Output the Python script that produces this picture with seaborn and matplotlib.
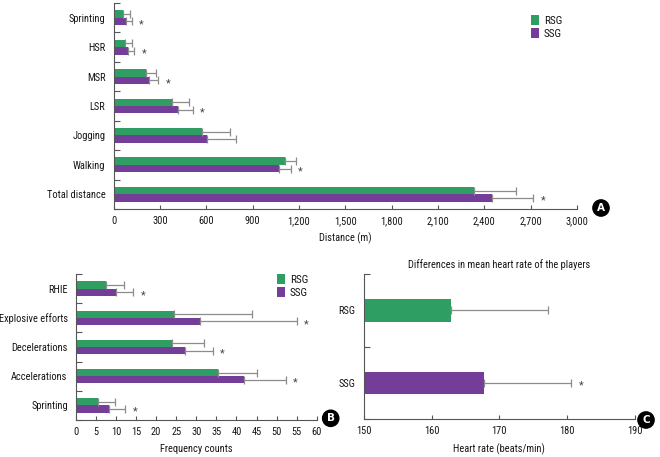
import numpy as np
import pandas as pd
import matplotlib
matplotlib.use('Agg')
import matplotlib.pyplot as plt
from matplotlib.container import BarContainer
from matplotlib.ticker import StrMethodFormatter
import seaborn as sns

# panel A: distance covered (m), mean and SD
dist_labels = ['Sprinting', 'HSR', 'MSR', 'LSR', 'Jogging', 'Walking', 'Total distance']
dist_rsg = [60, 73, 209, 380, 572, 1112, 2335]
dist_rsg_sd = [48, 43, 67, 106, 181, 71, 271]
dist_ssg = [80, 95, 231, 414, 602, 1068, 2450]
dist_ssg_sd = [36, 39, 58, 98, 190, 78, 268]
dist_sig = [True, True, True, True, False, True, True]

# panel B: frequency counts
freq_labels = ['RHIE', 'Explosive efforts', 'Decelerations', 'Accelerations', 'Sprinting']
freq_rsg = [7.5, 24.5, 24.0, 35.4, 5.4]
freq_rsg_sd = [4.5, 19.5, 7.8, 9.8, 4.3]
freq_ssg = [10.0, 30.8, 27.1, 42.0, 8.3]
freq_ssg_sd = [4.3, 24.3, 7.0, 10.3, 4.0]
freq_sig = [True, True, True, True, True]

# panel C: heart rate
hr_groups = ['RSG', 'SSG']
hr_mean = [162.8, 167.7]
hr_sd = [14.4, 12.9]
hr_sig = [False, True]

GREEN = '#2f9e63'
PURPLE = '#743d97'
ERR = '#8c8c8c'
AXC = '#555555'
TXT = '#151515'
pal = {'RSG': GREEN, 'SSG': PURPLE}

sns.set_style('ticks')
plt.rcParams['font.family'] = ['Roboto Condensed', 'Archivo Narrow', 'DejaVu Sans']
plt.rcParams['font.size'] = 7.5
plt.rcParams['text.color'] = TXT
plt.rcParams['axes.labelcolor'] = TXT
plt.rcParams['xtick.color'] = AXC
plt.rcParams['ytick.color'] = AXC
plt.rcParams['xtick.labelcolor'] = TXT
plt.rcParams['ytick.labelcolor'] = TXT


def long_df(labels, rsg, ssg):
    return pd.DataFrame({
        'label': labels * 2,
        'group': ['RSG'] * len(labels) + ['SSG'] * len(labels),
        'value': list(rsg) + list(ssg),
    })


def add_errors(ax, sds, sigs):
    # one-sided SD whiskers, star beside the SSG whisker when significant
    bars = [c for c in ax.containers if isinstance(c, BarContainer)]
    for k, cont in enumerate(bars):
        for bar, sd, sig in zip(cont, sds[k], sigs):
            y = bar.get_y() + bar.get_height() / 2
            w = bar.get_width()
            ax.errorbar(w, y, xerr=[[0], [sd]], fmt='none', ecolor=ERR,
                        elinewidth=0.9, capsize=2.6, capthick=0.9, zorder=1)
            if sig and k == len(bars) - 1:
                ax.annotate('*', xy=(w + sd, y), xytext=(7, -2),
                            textcoords='offset points', ha='center', va='center',
                            fontsize=8, color='#444444')


def style_axis(ax, n):
    sns.despine(ax=ax)
    for s in ['left', 'bottom']:
        ax.spines[s].set_color(AXC)
        ax.spines[s].set_linewidth(0.8)
    ax.set_ylim(n - 0.5, -0.5)
    ax.set_yticks(np.arange(-0.5, n), minor=True)
    ax.tick_params(axis='y', which='major', length=0, pad=6)
    ax.tick_params(axis='y', which='minor', length=4, direction='in', width=0.8)
    ax.tick_params(axis='x', which='major', length=3, direction='in', width=0.8, pad=5)
    ax.set_ylabel('')


def badge(fig, x, y, letter):
    fig.text(x / 660, 1 - y / 457, letter, ha='center', va='center', color='white',
             fontsize=7.5, fontweight='bold', family=['DejaVu Sans'],
             bbox=dict(boxstyle='circle,pad=0.3', fc='black', ec='black'))


fig = plt.figure(figsize=(6.6, 4.57), dpi=100)
axA = fig.add_axes([0.1723, 0.5427, 0.8742 - 0.1723, 0.9934 - 0.5427])
axB = fig.add_axes([0.1152, 0.081, 0.4798 - 0.1152, 0.4004 - 0.081])
axC = fig.add_axes([0.5515, 0.0825, 0.9617 - 0.5515, 0.4004 - 0.0825])

# A
sns.barplot(data=long_df(dist_labels, dist_rsg, dist_ssg), y='label', x='value',
            hue='group', palette=pal, orient='h', width=0.5, errorbar=None,
            saturation=1, linewidth=0, ax=axA)
add_errors(axA, [dist_rsg_sd, dist_ssg_sd], dist_sig)
style_axis(axA, len(dist_labels))
axA.set_xlim(0, 3000)
axA.set_xticks(np.arange(0, 3001, 300))
axA.xaxis.set_major_formatter(StrMethodFormatter('{x:,.0f}'))
axA.set_xlabel('Distance (m)', labelpad=5)
sns.move_legend(axA, loc='upper left', bbox_to_anchor=(531 / 660, 1 - 15 / 457),
                bbox_transform=fig.transFigure, title=None, frameon=False,
                fontsize=8, handlelength=0.75, handleheight=0.95, handletextpad=0.4,
                labelspacing=0.25, borderpad=0, borderaxespad=0)

# B
sns.barplot(data=long_df(freq_labels, freq_rsg, freq_ssg), y='label', x='value',
            hue='group', palette=pal, orient='h', width=0.5, errorbar=None,
            saturation=1, linewidth=0, ax=axB)
add_errors(axB, [freq_rsg_sd, freq_ssg_sd], freq_sig)
style_axis(axB, len(freq_labels))
axB.set_xlim(0, 60)
axB.set_xticks(np.arange(0, 61, 5))
axB.set_xlabel('Frequency counts', labelpad=5)
sns.move_legend(axB, loc='upper left', bbox_to_anchor=(277 / 660, 1 - 274 / 457),
                bbox_transform=fig.transFigure, title=None, frameon=False,
                fontsize=8, handlelength=0.75, handleheight=0.95, handletextpad=0.4,
                labelspacing=0.25, borderpad=0, borderaxespad=0)

# C
dfC = pd.DataFrame({'group': hr_groups, 'value': hr_mean})
sns.barplot(data=dfC, y='group', x='value', hue='group', palette=pal, orient='h',
            width=0.31, errorbar=None, saturation=1, linewidth=0, legend=False, ax=axC)
hr_bars = [p for c in axC.containers if isinstance(c, BarContainer) for p in c]
for bar, sd, sig in zip(hr_bars, hr_sd, hr_sig):
    y = bar.get_y() + bar.get_height() / 2
    w = bar.get_width()
    axC.errorbar(w, y, xerr=[[0], [sd]], fmt='none', ecolor=ERR, elinewidth=0.9,
                 capsize=2.6, capthick=0.9, zorder=1)
    if sig:
        axC.annotate('*', xy=(w + sd, y), xytext=(7, -2), textcoords='offset points',
                     ha='center', va='center', fontsize=8, color='#444444')
style_axis(axC, len(hr_groups))
axC.set_xlim(150, 190)
axC.set_xticks(np.arange(150, 191, 10))
axC.set_xlabel('Heart rate (beats/min)', labelpad=5)
axC.set_title('Differences in mean heart rate of the players', fontsize=7.5, pad=4.5)

badge(fig, 601, 208, 'A')
badge(fig, 330.7, 418.3, 'B')
badge(fig, 646, 420, 'C')

fig.savefig('out.png', dpi=100)
